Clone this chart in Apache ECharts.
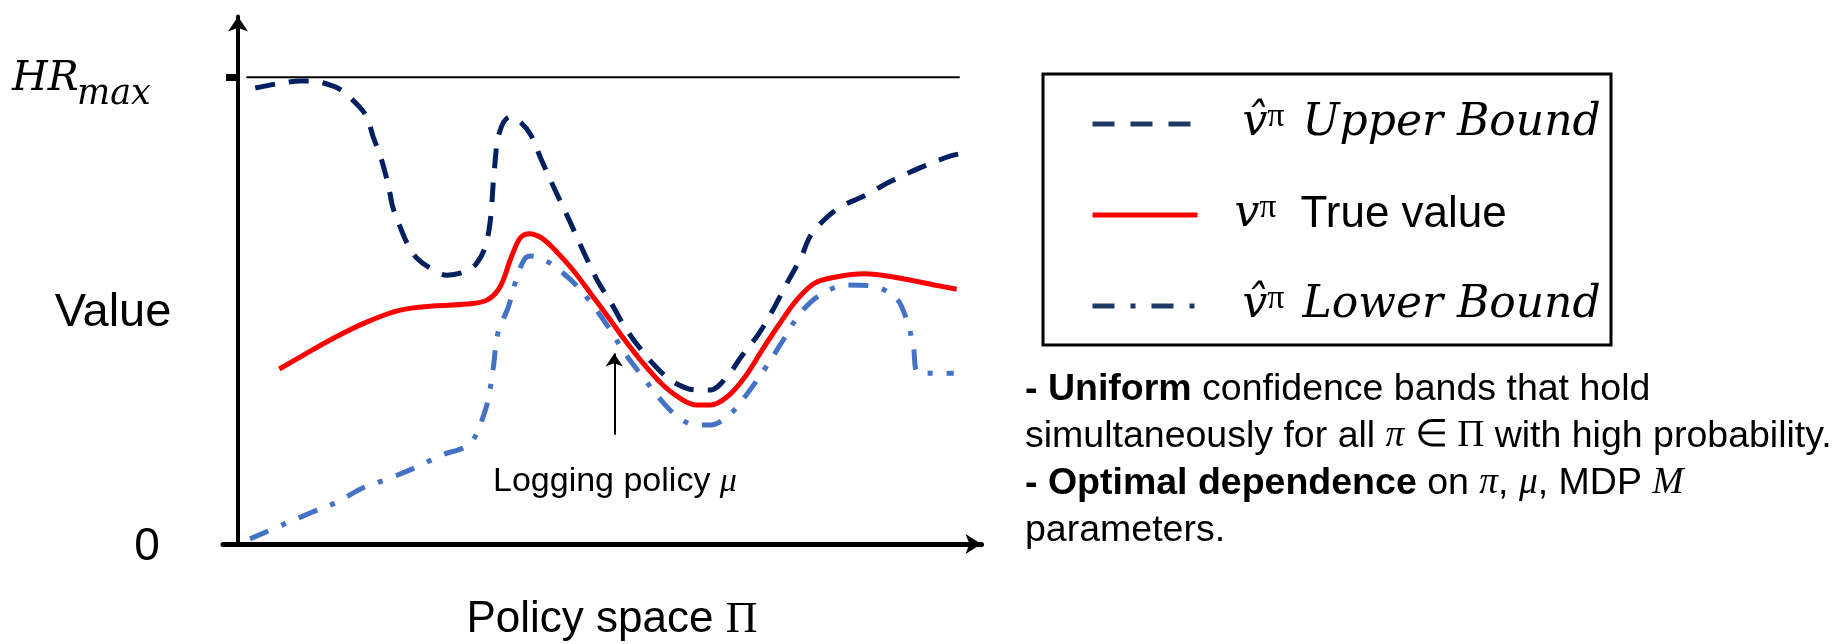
<!DOCTYPE html>
<html>
<head>
<meta charset="utf-8">
<script src="https://cdn.jsdelivr.net/npm/echarts@6/dist/echarts.min.js"></script>
<style>
  html, body { margin: 0; padding: 0; background: #fff; }
  #chart { width: 1841px; height: 644px; }
</style>
</head>
<body>
<div id="chart"></div>
<script>
// values: x = position in policy space, y = value (HR_max = 100)
const upperX = [2.3, 5.2, 8.3, 9.6, 12.7, 14.0, 16.2, 17.2, 18.0, 18.9, 19.6, 20.2, 20.6, 21.6, 22.5, 23.8, 26.0, 27.8, 30.5, 31.8, 32.9, 33.6, 34.1, 34.8, 36.2, 37.6, 39.0, 40.4, 42.2, 44.1, 45.9, 47.8, 49.7, 51.5, 53.4, 55.8, 58.2, 61.0, 62.9, 65.1, 67.0, 69.4, 71.2, 73.1, 75.0, 76.2, 77.9, 80.2, 83.4, 86.8, 91.1, 94.8, 96.8];
const upperY = [97.7, 98.6, 99.2, 99.2, 98.1, 96.9, 93.6, 91.3, 87.2, 83.4, 79.5, 75.4, 72.2, 67.9, 64.5, 61.3, 58.7, 57.6, 58.5, 60.2, 63.6, 69.4, 79.5, 88.1, 91.5, 90.4, 87.6, 82.3, 75.9, 69.4, 63.0, 56.6, 51.6, 46.5, 42.2, 37.7, 34.5, 33.0, 33.0, 35.8, 40.1, 45.2, 50.1, 55.9, 61.5, 66.0, 69.2, 72.2, 74.6, 77.6, 80.8, 83.1, 83.8];

const trueX = [5.5, 8.3, 12.7, 17.2, 21.6, 26.0, 30.5, 33.2, 34.9, 36.4, 37.6, 38.8, 40.4, 42.2, 44.6, 46.9, 49.3, 51.5, 53.9, 56.3, 58.6, 61.0, 62.9, 65.1, 67.5, 69.8, 72.2, 74.4, 76.8, 79.6, 83.4, 88.0, 92.7, 95.7];
const trueY = [37.5, 40.1, 44.1, 47.6, 50.1, 51.0, 51.4, 52.3, 55.1, 61.5, 65.6, 66.5, 65.6, 63.0, 58.7, 53.8, 48.6, 43.7, 38.8, 34.5, 31.5, 29.8, 29.8, 31.5, 35.8, 41.6, 47.4, 52.3, 55.9, 57.2, 57.9, 57.0, 55.5, 54.6];

const lowerX = [1.6, 6.5, 10.0, 13.2, 16.6, 20.2, 23.8, 27.2, 30.0, 31.3, 32.5, 33.3, 34.0, 34.6, 36.0, 36.9, 38.1, 39.0, 41.3, 43.1, 45.0, 46.9, 49.3, 51.5, 53.9, 56.3, 58.6, 61.0, 62.9, 65.7, 67.9, 70.3, 72.6, 74.4, 76.3, 78.7, 81.0, 84.3, 87.6, 89.0, 89.9, 90.6, 92.8, 95.3];
const lowerY = [1.1, 4.5, 6.9, 9.0, 12.0, 14.1, 16.5, 19.1, 20.6, 22.3, 26.6, 30.9, 37.9, 45.2, 50.8, 55.9, 60.9, 61.7, 60.4, 58.3, 55.5, 51.9, 46.5, 40.9, 35.8, 30.9, 27.2, 25.5, 25.5, 28.1, 32.4, 37.9, 43.7, 48.4, 51.9, 54.4, 55.5, 55.3, 52.7, 48.2, 42.6, 36.6, 36.6, 36.6];

// HR_max reference line and logging policy arrow
const hrX = [1.1, 96.1];
const hrY = [100, 100];
const muX = [50.1, 50.1];
const muY = [23.4, 40.8];

const yTicks = [100];

function zip(xs, ys) {
  return xs.map(function (x, i) {
    return [x, ys[i]];
  });
}

const serif = "DejaVu Serif";
const serif2 = "Liberation Serif";
const sans = "Liberation Sans";
const legendNavy = "#203864";

var chart = echarts.init(document.getElementById("chart"));
var option = {
  animation: false,
  grid: { left: 223, right: 859.5, top: 16.6, bottom: 100 },
  xAxis: {
    type: "value",
    min: -2,
    max: 99,
    axisLine: {
      symbol: ["none", "arrow"],
      symbolSize: [15, 16],
      lineStyle: { color: "#000", width: 5 },
    },
    axisTick: { show: false },
    axisLabel: { show: false },
    splitLine: { show: false },
  },
  yAxis: {
    type: "value",
    min: 0,
    max: 113,
    axisLine: {
      onZero: true,
      symbol: ["none", "arrow"],
      symbolSize: [15, 15],
      lineStyle: { color: "#000", width: 4 },
    },
    axisTick: {
      show: true,
      customValues: yTicks,
      length: 12,
      lineStyle: { color: "#000", width: 7 },
    },
    axisLabel: { show: false },
    splitLine: { show: false },
  },
  legend: {
    orient: "vertical",
    left: 1085,
    top: 95,
    itemWidth: 105,
    itemHeight: 20,
    itemGap: 45,
    selectedMode: false,
    itemStyle: { opacity: 0 },
    data: [
      { name: "Upper Bound", lineStyle: { color: legendNavy, width: 5, type: [22, 16] } },
      { name: "True value", lineStyle: { width: 5 } },
      { name: "Lower Bound", lineStyle: { color: legendNavy, width: 5, type: [22, 16, 5, 16] } },
    ],
    formatter: function (name) {
      if (name === "True value") {
        return "{w|v}{p|π}{a|True value}";
      }
      return "{v|v\u0302}{p|π}{t|" + name + "}";
    },
    textStyle: {
      color: "#000",
      rich: {
        v: { fontFamily: serif, fontStyle: "italic", fontSize: 44, lineHeight: 48, padding: [0, 0, 0, 40] },
        w: { fontFamily: serif, fontStyle: "italic", fontSize: 44, lineHeight: 48, padding: [0, 0, 0, 32] },
        p: { fontFamily: serif2, fontSize: 34, lineHeight: 30, verticalAlign: "top" },
        t: { fontFamily: serif, fontStyle: "italic", fontSize: 44, lineHeight: 48, padding: [0, 0, 0, 18] },
        a: { fontFamily: sans, fontSize: 44, lineHeight: 48, padding: [0, 0, 0, 24] },
      },
    },
  },
  series: [
    {
      name: "Lower Bound",
      type: "line",
      data: zip(lowerX, lowerY),
      smooth: 0.35,
      symbol: "none",
      lineStyle: { color: "#4472C4", width: 5, type: [20, 14, 5, 14] },
      itemStyle: { color: "#4472C4" },
    },
    {
      name: "Upper Bound",
      type: "line",
      data: zip(upperX, upperY),
      smooth: 0.35,
      symbol: "none",
      lineStyle: { color: "#002060", width: 5, type: [20, 14] },
      itemStyle: { color: "#002060" },
    },
    {
      name: "True value",
      type: "line",
      data: zip(trueX, trueY),
      smooth: 0.35,
      symbol: "none",
      lineStyle: { color: "#FF0000", width: 5 },
      itemStyle: { color: "#FF0000" },
      markLine: {
        silent: true,
        symbol: ["none", "arrow"],
        symbolSize: 13,
        label: { show: false },
        lineStyle: { color: "#000", width: 2, type: "solid" },
        data: [[{ coord: [muX[0], muY[0]] }, { coord: [muX[1], muY[1]] }]],
      },
    },
    {
      name: "HRmax",
      type: "line",
      data: zip(hrX, hrY),
      symbol: "none",
      lineStyle: { color: "#000", width: 2 },
    },
  ],
  graphic: [
    {
      type: "rect",
      shape: { x: 1043, y: 74, width: 568, height: 271 },
      style: { fill: "none", stroke: "#000", lineWidth: 3 },
    },
    { type: "text", x: 12, y: 79, style: { text: "HR", font: "italic 41px " + serif, verticalAlign: "middle", fill: "#000" } },
    { type: "text", x: 77, y: 95, style: { text: "max", font: "italic 35px " + serif, verticalAlign: "middle", fill: "#000" } },
    { type: "text", x: 113, y: 313, style: { text: "Value", font: "47px " + sans, align: "center", verticalAlign: "middle", fill: "#000" } },
    { type: "text", x: 147, y: 547, style: { text: "0", font: "46px " + sans, align: "center", verticalAlign: "middle", fill: "#000" } },
    {
      type: "text",
      x: 612,
      y: 620,
      style: {
        text: "{a|Policy space }{b|Π}",
        align: "center",
        verticalAlign: "middle",
        rich: {
          a: { fontFamily: sans, fontSize: 44 },
          b: { fontFamily: serif2, fontSize: 44 },
        },
      },
    },
    {
      type: "text",
      x: 493,
      y: 482,
      style: {
        text: "{a|Logging policy }{b|μ}",
        verticalAlign: "middle",
        rich: {
          a: { fontFamily: sans, fontSize: 34 },
          b: { fontFamily: serif2, fontStyle: "italic", fontSize: 34 },
        },
      },
    },
    {
      type: "text",
      x: 1025,
      y: 366,
      style: {
        text: [
          "{b|- Uniform}{n| confidence bands that hold}",
          "{n|simultaneously for all }{m|π}{n| }{s|∈ Π}{n| with high probability.}",
          "{b|- Optimal dependence}{n| on }{m|π}{n|, }{m|μ}{n|, MDP }{m|M}",
          "{n|parameters.}",
        ].join("\n"),
        rich: {
          b: { fontFamily: sans, fontWeight: "bold", fontSize: 37.5, lineHeight: 47 },
          n: { fontFamily: sans, fontSize: 37.5, lineHeight: 47 },
          m: { fontFamily: serif2, fontStyle: "italic", fontSize: 37.5, lineHeight: 47 },
          s: { fontFamily: serif2, fontSize: 37.5, lineHeight: 47 },
        },
      },
    },
  ],
};
chart.setOption(option);
</script>
</body>
</html>
